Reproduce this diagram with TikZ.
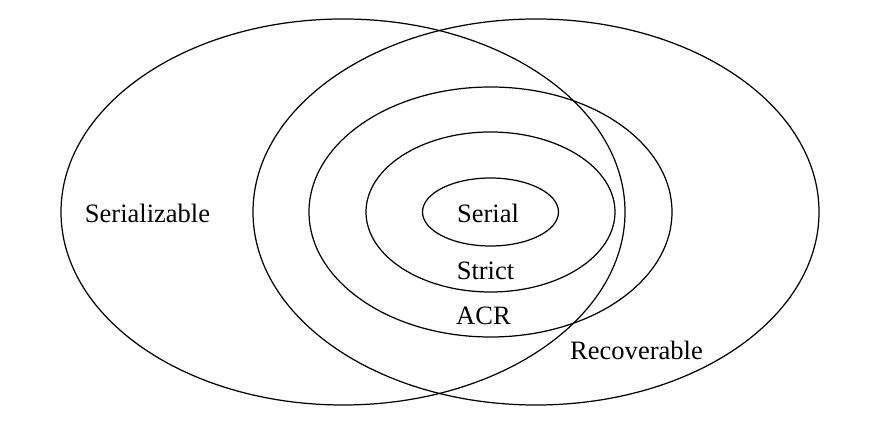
\documentclass[tikz,border=0pt]{standalone}
\usepackage{fontspec}
\setmainfont{Liberation Serif}

\begin{document}
\begin{tikzpicture}[line cap=round,line join=round,
    setline/.style={line width=0.7pt},
    setlabel/.style={anchor=base,inner sep=0pt,font=\fontsize{15.1}{18}\selectfont}]
  \useasboundingbox (0,0) rectangle (17.64,8.52);
  \coordinate (S) at (6.86,4.28);
  \coordinate (R) at (10.72,4.28);
  \coordinate (K) at (9.81,4.28);
  \draw[setline] (S) ellipse [x radius=5.64,y radius=3.86];
  \draw[setline] (R) ellipse [x radius=5.66,y radius=3.86];
  \draw[setline] (K) ellipse [x radius=3.63,y radius=2.50];
  \draw[setline] (K) ellipse [x radius=2.49,y radius=1.60];
  \draw[setline] (K) ellipse [x radius=1.36,y radius=0.68];
  \node[setlabel] (serializable) at (2.95,4.06) {Serializable};
  \node[setlabel] (serial) at (9.76,4.06) {Serial};
  \node[setlabel] (strict) at (9.71,2.92) {Strict};
  \node[setlabel] (acr) at (9.67,2.02) {ACR};
  \node[setlabel] (recoverable) at (12.73,1.32) {Recoverable};
\end{tikzpicture}
\end{document}
